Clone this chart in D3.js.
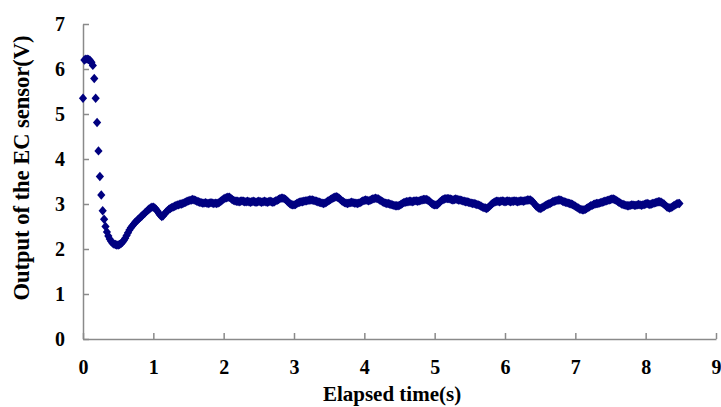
<!DOCTYPE html>
<html>
<head>
<meta charset="utf-8">
<script src="https://cdn.jsdelivr.net/npm/d3@7"></script>
<style>
  html, body { margin: 0; padding: 0; background: #fff; }
  svg { display: block; }
  .axis text { font-family: "Liberation Serif", "Times New Roman", serif; font-weight: bold; font-size: 20px; fill: #000; }
  .axis path, .axis line { stroke: #8a8a8a; stroke-width: 1.5; }
  .title { font-family: "Liberation Serif", "Times New Roman", serif; font-weight: bold; font-size: 21px; fill: #000; }
  .title.y { font-size: 22.5px; }
</style>
</head>
<body>
<script>
// Sampling interval of the logger (s)
const sampleInterval = 0.02;

// EC sensor output (V), one reading per sample, starting at t = 0
const sensorOutput = [
  // 0.00 - 0.48 s
  5.35, 6.20, 6.22, 6.22, 6.21, 6.19, 6.15, 6.08, 5.79, 5.35, 4.81, 4.18, 3.61, 3.20, 2.85, 2.66, 2.50, 2.38, 2.29, 2.22, 2.17, 2.13, 2.11, 2.10, 2.09,
  // 0.50 - 0.98 s
  2.09, 2.10, 2.12, 2.15, 2.19, 2.24, 2.30, 2.36, 2.42, 2.47, 2.51, 2.55, 2.59, 2.62, 2.65, 2.68, 2.71, 2.74, 2.77, 2.80, 2.83, 2.86, 2.89, 2.91, 2.93,
  // 1.00 - 1.48 s
  2.93, 2.91, 2.88, 2.84, 2.79, 2.75, 2.72, 2.74, 2.78, 2.82, 2.85, 2.88, 2.90, 2.92, 2.93, 2.95, 2.96, 2.98, 2.98, 3.00, 3.00, 3.01, 3.03, 3.04, 3.06,
  // 1.50 - 1.98 s
  3.07, 3.08, 3.09, 3.10, 3.09, 3.08, 3.06, 3.05, 3.04, 3.03, 3.02, 3.02, 3.03, 3.02, 3.01, 3.02, 3.03, 3.02, 3.01, 3.02, 3.01, 3.02, 3.04, 3.06, 3.09,
  // 2.00 - 2.48 s
  3.11, 3.13, 3.14, 3.15, 3.15, 3.13, 3.10, 3.08, 3.07, 3.06, 3.06, 3.05, 3.06, 3.07, 3.06, 3.05, 3.05, 3.06, 3.05, 3.04, 3.05, 3.06, 3.05, 3.04, 3.05,
  // 2.50 - 2.98 s
  3.06, 3.05, 3.04, 3.05, 3.06, 3.05, 3.04, 3.05, 3.06, 3.05, 3.04, 3.05, 3.07, 3.08, 3.10, 3.12, 3.13, 3.13, 3.12, 3.10, 3.07, 3.04, 3.01, 2.99, 2.98,
  // 3.00 - 3.48 s
  2.98, 2.99, 3.01, 3.03, 3.04, 3.05, 3.05, 3.06, 3.07, 3.07, 3.08, 3.09, 3.09, 3.09, 3.08, 3.07, 3.06, 3.05, 3.04, 3.03, 3.02, 3.01, 3.02, 3.04, 3.06,
  // 3.50 - 3.98 s
  3.08, 3.10, 3.12, 3.14, 3.15, 3.16, 3.15, 3.13, 3.10, 3.07, 3.05, 3.03, 3.02, 3.01, 3.02, 3.03, 3.04, 3.03, 3.02, 3.02, 3.01, 3.02, 3.03, 3.05, 3.07,
  // 4.00 - 4.48 s
  3.08, 3.09, 3.08, 3.07, 3.08, 3.10, 3.11, 3.12, 3.13, 3.12, 3.11, 3.09, 3.07, 3.05, 3.03, 3.02, 3.01, 3.01, 3.00, 2.99, 2.98, 2.97, 2.96, 2.96, 2.96,
  // 4.50 - 4.98 s
  2.97, 2.99, 3.01, 3.03, 3.04, 3.05, 3.05, 3.06, 3.06, 3.05, 3.06, 3.07, 3.07, 3.06, 3.07, 3.08, 3.09, 3.10, 3.10, 3.10, 3.09, 3.07, 3.04, 3.01, 2.99,
  // 5.00 - 5.48 s
  2.98, 2.98, 2.99, 3.02, 3.05, 3.08, 3.10, 3.11, 3.12, 3.12, 3.12, 3.11, 3.10, 3.09, 3.10, 3.11, 3.10, 3.09, 3.09, 3.08, 3.07, 3.06, 3.05, 3.05, 3.04,
  // 5.50 - 5.98 s
  3.03, 3.02, 3.01, 3.01, 3.00, 2.99, 2.98, 2.97, 2.95, 2.93, 2.92, 2.91, 2.90, 2.92, 2.95, 2.98, 3.01, 3.03, 3.05, 3.06, 3.06, 3.05, 3.06, 3.07, 3.06,
  // 6.00 - 6.48 s
  3.05, 3.06, 3.07, 3.06, 3.05, 3.06, 3.06, 3.07, 3.06, 3.05, 3.06, 3.07, 3.07, 3.06, 3.07, 3.08, 3.09, 3.09, 3.09, 3.07, 3.04, 3.00, 2.96, 2.93, 2.91,
  // 6.50 - 6.98 s
  2.90, 2.91, 2.93, 2.95, 2.97, 2.99, 3.00, 3.01, 3.03, 3.05, 3.06, 3.07, 3.08, 3.09, 3.09, 3.08, 3.06, 3.05, 3.04, 3.03, 3.02, 3.01, 3.00, 2.99, 2.97,
  // 7.00 - 7.48 s
  2.95, 2.93, 2.91, 2.89, 2.88, 2.87, 2.87, 2.88, 2.90, 2.92, 2.94, 2.96, 2.97, 2.99, 3.00, 3.01, 3.01, 3.02, 3.03, 3.04, 3.05, 3.06, 3.07, 3.08, 3.09,
  // 7.50 - 7.98 s
  3.10, 3.11, 3.11, 3.10, 3.08, 3.06, 3.04, 3.02, 3.00, 2.99, 2.98, 2.97, 2.96, 2.96, 2.97, 2.98, 2.98, 2.97, 2.97, 2.98, 2.99, 2.98, 2.97, 2.98, 2.99,
  // 8.00 - 8.48 s
  3.00, 3.01, 3.00, 2.99, 3.00, 3.01, 3.02, 3.03, 3.04, 3.05, 3.05, 3.04, 3.02, 3.00, 2.97, 2.94, 2.92, 2.91, 2.92, 2.94, 2.96, 2.98, 3.00, 3.01, 3.01
];

const xTicks = [0, 1, 2, 3, 4, 5, 6, 7, 8, 9];
const yTicks = [0, 1, 2, 3, 4, 5, 6, 7];
const xLabel = "Elapsed time(s)";
const yLabel = "Output  of the EC sensor(V)";

const width = 721, height = 407;
const margin = { left: 83, right: 5, top: 24, bottom: 68 };

const svg = d3.select("body").append("svg")
  .attr("width", width)
  .attr("height", height);

svg.append("rect").attr("width", width).attr("height", height).attr("fill", "#fff");

const x = d3.scaleLinear().domain([0, 9]).range([margin.left, width - margin.right]);
const y = d3.scaleLinear().domain([0, 7]).range([height - margin.bottom, margin.top]);

// Axes with inward-pointing ticks
svg.append("g")
  .attr("class", "axis")
  .attr("transform", `translate(0,${y(0)})`)
  .call(d3.axisBottom(x).tickValues(xTicks).tickFormat(d3.format("d"))
    .tickSizeInner(-6).tickSizeOuter(0).tickPadding(21));

svg.append("g")
  .attr("class", "axis")
  .attr("transform", `translate(${x(0)},0)`)
  .call(d3.axisLeft(y).tickValues(yTicks).tickFormat(d3.format("d"))
    .tickSizeInner(-6).tickSizeOuter(0).tickPadding(18));

// Readings as diamond markers
const points = sensorOutput.map((v, i) => ({ t: i * sampleInterval, v }));
const diamond = "M0,-4.7L4.1,0L0,4.7L-4.1,0Z";

svg.append("g")
  .selectAll("path")
  .data(points)
  .join("path")
  .attr("d", diamond)
  .attr("transform", d => `translate(${x(d.t)},${y(d.v)})`)
  .attr("fill", "#000080");

// Axis titles
svg.append("text")
  .attr("class", "title")
  .attr("x", 392)
  .attr("y", 401)
  .attr("text-anchor", "middle")
  .text(xLabel);

svg.append("text")
  .attr("class", "title y")
  .attr("transform", "translate(29,168) rotate(-90)")
  .attr("text-anchor", "middle")
  .text(yLabel);
</script>
</body>
</html>
